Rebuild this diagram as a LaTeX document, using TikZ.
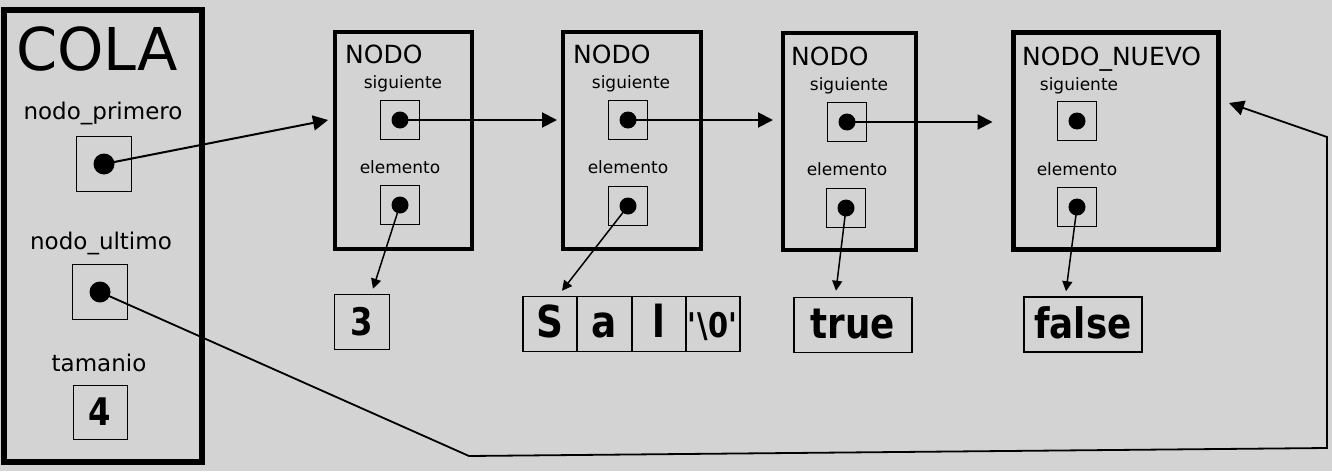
\documentclass[tikz,border=0pt]{standalone}
\usepackage{fontspec}
\setmainfont{DejaVu Sans}
\newfontfamily\valfont{DejaVu Sans}[FakeStretch=0.85]
\usetikzlibrary{arrows.meta,positioning,calc}
\definecolor{fondo}{HTML}{D3D3D3}

\begin{document}
\begin{tikzpicture}[x=1pt, y=-1pt,
    caja/.style={draw, line width=4pt, minimum width=#1, minimum height=217pt, inner sep=0pt},
    ptrbox/.style={draw, line width=1pt, minimum size=#1, inner sep=0pt},
    punto/.style={circle, fill, inner sep=0pt, minimum size=#1},
    etiq/.style={anchor=base, inner sep=0pt, font=\fontsize{23}{23}\selectfont},
    campo/.style={anchor=base, inner sep=0pt, font=\fontsize{17}{17}\selectfont},
    titulo/.style={anchor=base west, inner sep=0pt, font=\fontsize{25}{25}\selectfont},
    valbox/.style={draw, line width=1.5pt, inner sep=0pt, minimum height=55pt,
        text height=27pt, text depth=0pt},
    ptr/.style={line width=2pt, -{Triangle[length=15pt, width=15pt]}},
    ptrc/.style={line width=1.5pt, -{Triangle[length=10pt, width=10pt]}}]

    % fondo
    \fill[fondo] (0,0) rectangle (1332,471);

    % COLA
    \node[caja=198pt, minimum height=452pt, line width=6pt] (cola) at (103,236) {};
    \node[titulo, font=\fontsize{59}{59}\selectfont] (tcola) at (16,70) {COLA};
    \node[etiq] (tprim) at (103,119) {nodo\_primero};
    \node[ptrbox=55pt] (bprim) at (104,164) {};
    \node[punto=21pt] (dprim) at (bprim) {};
    \node[etiq] (tult) at (101,249) {nodo\_ultimo};
    \node[ptrbox=55pt] (bult) at (100,292) {};
    \node[punto=21pt] (dult) at (bult) {};
    \node[etiq] (ttam) at (99,371) {tamanio};
    \node[ptrbox=54pt, font=\valfont\bfseries\fontsize{38}{38}\selectfont,
        text height=27pt, text depth=0pt] (btam) at (100,412) {4};

    % NODO 1
    \node[caja=137pt] (n1) at (403.5,140.5) {};
    \node[titulo] (tn1) at (345,63) {NODO};
    \node[campo] (sig1) at (403,88) {siguiente};
    \node[ptrbox=39pt] (bs1) at (400,120) {};
    \node[punto=17pt] (ds1) at (bs1) {};
    \node[campo] (ele1) at (400,173) {elemento};
    \node[ptrbox=39pt] (be1) at (400,205) {};
    \node[punto=17pt] (de1) at (be1) {};

    % NODO 2
    \node[caja=138pt] (n2) at (632,140.5) {};
    \node[titulo] (tn2) at (573,63) {NODO};
    \node[campo] (sig2) at (631,88) {siguiente};
    \node[ptrbox=39pt] (bs2) at (628,120) {};
    \node[punto=17pt] (ds2) at (bs2) {};
    \node[campo] (ele2) at (628,173) {elemento};
    \node[ptrbox=39pt] (be2) at (628,206) {};
    \node[punto=17pt] (de2) at (be2) {};

    % NODO 3
    \node[caja=133pt] (n3) at (849.5,141) {};
    \node[titulo] (tn3) at (791,65) {NODO};
    \node[campo] (sig3) at (849,90) {siguiente};
    \node[ptrbox=39pt] (bs3) at (847,122) {};
    \node[punto=17pt] (ds3) at (bs3) {};
    \node[campo] (ele3) at (847,175) {elemento};
    \node[ptrbox=39pt] (be3) at (846,208) {};
    \node[punto=17pt] (de3) at (be3) {};

    % NODO_NUEVO
    \node[caja=205pt, line width=5pt] (n4) at (1115.5,140.5) {};
    \node[titulo] (tn4) at (1022,65) {NODO\_NUEVO};
    \node[campo] (sig4) at (1079,90) {siguiente};
    \node[ptrbox=39pt] (bs4) at (1077,121) {};
    \node[punto=17pt] (ds4) at (bs4) {};
    \node[campo] (ele4) at (1077,175) {elemento};
    \node[ptrbox=39pt] (be4) at (1077,207) {};
    \node[punto=17pt] (de4) at (be4) {};

    % valores
    \node[valbox, minimum width=55pt, font=\valfont\bfseries\fontsize{38}{38}\selectfont] (v3) at (362,322) {3};
    \node[valbox, minimum width=54pt, font=\valfont\bfseries\fontsize{44}{44}\selectfont] (vs) at (550,324) {S};
    \node[valbox, minimum width=54pt, font=\valfont\bfseries\fontsize{44}{44}\selectfont] (va) at (604.5,324) {a};
    \node[valbox, minimum width=54pt, font=\valfont\bfseries\fontsize{44}{44}\selectfont] (vl) at (659,324) {l};
    \node[valbox, minimum width=54pt, font=\valfont\bfseries\fontsize{34}{34}\selectfont] (v0) at (713,324) {\textquotesingle\textbackslash 0\textquotesingle};
    \node[valbox, minimum width=118pt, font=\valfont\bfseries\fontsize{42}{42}\selectfont] (vtrue) at (853,325) {true};
    \node[valbox, minimum width=118pt, font=\valfont\bfseries\fontsize{42}{42}\selectfont] (vfalse) at (1083,324.5) {false};

    % recorrido de nodo_ultimo
    \coordinate (c1) at (469,456);
    \coordinate (c2) at (1327,448);
    \coordinate (c3) at (1327,137);
    \coordinate (fin) at (1229,103);

    % Flechas
    \draw[ptr] (dprim.center) -- ([xshift=-5pt]n1.west |- bs1.center);
    \draw[ptr] (ds1.center) -- ([xshift=-4pt]n2.west |- ds1.center);
    \draw[ptr] (ds2.center) -- ([xshift=-8pt]n3.west |- ds2.center);
    \draw[ptr] (ds3.center) -- ([xshift=-18pt]n4.west |- ds3.center);
    \draw[ptrc] (de1.center) -- ([xshift=11pt, yshift=5pt]v3.north);
    \draw[ptrc] (de2.center) -- ([xshift=12pt, yshift=5pt]vs.north);
    \draw[ptrc] (de3.center) -- ([xshift=-17pt, yshift=6pt]vtrue.north);
    \draw[ptrc] (de4.center) -- ([xshift=-17pt, yshift=5pt]vfalse.north);
    \draw[ptr, line width=1.8pt] (dult.center) -- (c1) -- (c2) -- (c3) -- (fin);
\end{tikzpicture}
\end{document}
